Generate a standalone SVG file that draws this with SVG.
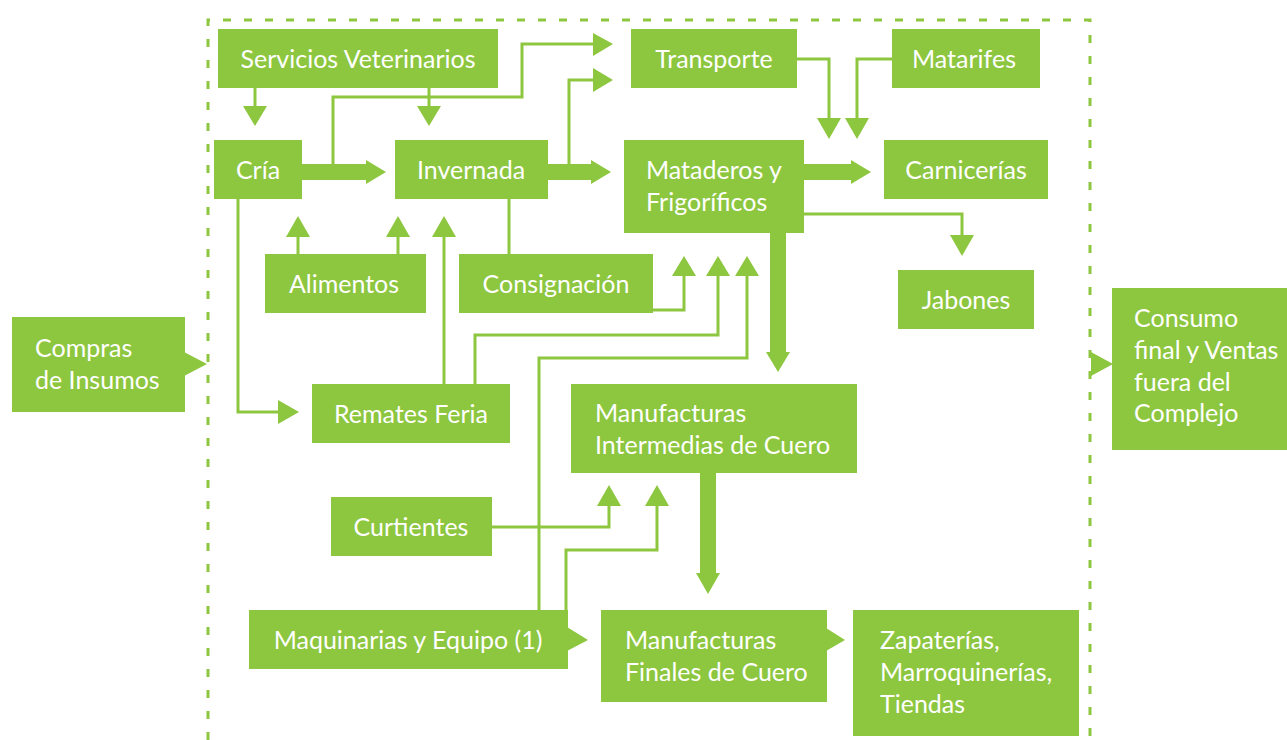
<svg xmlns="http://www.w3.org/2000/svg" width="1287" height="740" viewBox="0 0 1287 740">
<style>
.box{fill:#8DC63F}
.t{font-family:Lato,"Open Sans",sans-serif;font-size:25px;fill:#fff}
.c{text-anchor:middle}
.ln{fill:none;stroke:#8DC63F;stroke-width:3}
.ah{fill:#8DC63F}
.dash{fill:none;stroke:#8DC63F;stroke-width:3;stroke-dasharray:8 13}
</style>
<rect width="1287" height="740" fill="#fff"/>
<path class="dash" d="M208,740 V20 H1090 V740"/>

<g id="connectors">
<path class="ln" d="M255,88 V107"/>
<polygon class="ah" points="243,106 267,106 255,126"/>
<path class="ln" d="M429,88 V107"/>
<polygon class="ah" points="417,106 441,106 429,126"/>
<rect class="ah" x="302" y="164" width="65" height="16"/>
<polygon class="ah" points="366,160 386,172 366,184"/>
<path class="ln" d="M333,165 V97 H522 V44 H594"/>
<polygon class="ah" points="593,33 613,44 593,56"/>
<path class="ln" d="M569,165 V80 H594"/>
<polygon class="ah" points="593,68 613,80 593,92"/>
<rect class="ah" x="548" y="164" width="44" height="16"/>
<polygon class="ah" points="591,160 611,172 591,184"/>
<rect class="ah" x="804" y="164" width="48" height="16"/>
<polygon class="ah" points="851,160 871,172 851,184"/>
<path class="ln" d="M797,59 H829 V119"/>
<polygon class="ah" points="817,118 841,118 829,139"/>
<path class="ln" d="M892,59 H857 V119"/>
<polygon class="ah" points="845,118 869,118 857,139"/>
<path class="ln" d="M804,214 H962 V236"/>
<polygon class="ah" points="950,235 974,235 962,256"/>
<rect class="ah" x="770" y="233" width="16" height="120"/>
<polygon class="ah" points="766,352 790,352 778,372"/>
<path class="ln" d="M509,199 V254"/>
<path class="ln" d="M653,310 H684 V275"/>
<polygon class="ah" points="672,276 696,276 684,256"/>
<path class="ln" d="M475,384 V335 H718 V275"/>
<polygon class="ah" points="706,276 730,276 718,256"/>
<path class="ln" d="M539,610 V358 H747 V275"/>
<polygon class="ah" points="735,276 759,276 747,256"/>
<path class="ln" d="M298,254 V236"/>
<polygon class="ah" points="286,237 310,237 298,216"/>
<path class="ln" d="M398,254 V236"/>
<polygon class="ah" points="386,237 410,237 398,216"/>
<path class="ln" d="M444,384 V236"/>
<polygon class="ah" points="432,237 456,237 444,216"/>
<path class="ln" d="M238,199 V412 H279"/>
<polygon class="ah" points="278,400 299,412 278,424"/>
<path class="ln" d="M492,527 H609 V505"/>
<polygon class="ah" points="597,506 621,506 609,485"/>
<path class="ln" d="M566,610 V550 H657 V505"/>
<polygon class="ah" points="645,506 669,506 657,485"/>
<rect class="ah" x="700" y="473" width="16" height="101"/>
<polygon class="ah" points="696,573 720,573 708,594"/>
</g>

<g id="compras">
<rect class="box" x="12" y="317" width="173" height="95"/>
<polygon class="box" points="184,352 207,364 184,376"/>
<text class="t" x="35" y="357">Compras</text>
<text class="t" x="35" y="389">de Insumos</text>
</g>
<g id="servicios">
<rect class="box" x="218" y="29" width="280" height="59"/>
<text class="t c" x="358" y="68">Servicios Veterinarios</text>
</g>
<g id="transporte">
<rect class="box" x="631" y="29" width="166" height="59"/>
<text class="t c" x="714" y="68">Transporte</text>
</g>
<g id="matarifes">
<rect class="box" x="892" y="29" width="148" height="59"/>
<text class="t c" x="964" y="68">Matarifes</text>
</g>
<g id="cria">
<rect class="box" x="214" y="140" width="88" height="59"/>
<text class="t c" x="258" y="179">Cría</text>
</g>
<g id="invernada">
<rect class="box" x="395" y="140" width="153" height="59"/>
<text class="t c" x="471" y="179">Invernada</text>
</g>
<g id="mataderos">
<rect class="box" x="624" y="140" width="180" height="93"/>
<text class="t" x="646" y="179">Mataderos y</text>
<text class="t" x="646" y="211">Frigoríficos</text>
</g>
<g id="carnicerias">
<rect class="box" x="884" y="140" width="164" height="59"/>
<text class="t c" x="966" y="179">Carnicerías</text>
</g>
<g id="alimentos">
<rect class="box" x="265" y="254" width="161" height="59"/>
<text class="t c" x="344" y="293">Alimentos</text>
</g>
<g id="consignacion">
<rect class="box" x="459" y="254" width="194" height="59"/>
<text class="t c" x="556" y="293">Consignación</text>
</g>
<g id="jabones">
<rect class="box" x="898" y="270" width="136" height="59"/>
<text class="t c" x="966" y="309">Jabones</text>
</g>
<g id="remates">
<rect class="box" x="312" y="384" width="198" height="59"/>
<text class="t c" x="411" y="423">Remates Feria</text>
</g>
<g id="intermedias">
<rect class="box" x="571" y="384" width="286" height="89"/>
<text class="t" x="595" y="422">Manufacturas</text>
<text class="t" x="595" y="454">Intermedias de Cuero</text>
</g>
<g id="consumo">
<rect class="box" x="1112" y="288" width="175" height="162"/>
<polygon class="box" points="1091,352 1113,364 1091,376"/>
<text class="t" x="1134" y="327">Consumo</text>
<text class="t" x="1134" y="359">final y Ventas</text>
<text class="t" x="1134" y="391">fuera del</text>
<text class="t" x="1134" y="422">Complejo</text>
</g>
<g id="curtientes">
<rect class="box" x="331" y="497" width="161" height="59"/>
<text class="t c" x="411" y="536">Curtientes</text>
</g>
<g id="maquinarias">
<rect class="box" x="249" y="610" width="319" height="59"/>
<polygon class="box" points="567,627 588,640 567,651"/>
<text class="t c" x="408" y="649">Maquinarias y Equipo (1)</text>
</g>
<g id="finales">
<rect class="box" x="601" y="610" width="226" height="92"/>
<polygon class="box" points="826,628 845,640 826,651"/>
<text class="t" x="625" y="649">Manufacturas</text>
<text class="t" x="625" y="681">Finales de Cuero</text>
</g>
<g id="zapaterias">
<rect class="box" x="853" y="610" width="226" height="126"/>
<text class="t" x="880" y="649">Zapaterías,</text>
<text class="t" x="880" y="681">Marroquinerías,</text>
<text class="t" x="880" y="713">Tiendas</text>
</g>
</svg>
